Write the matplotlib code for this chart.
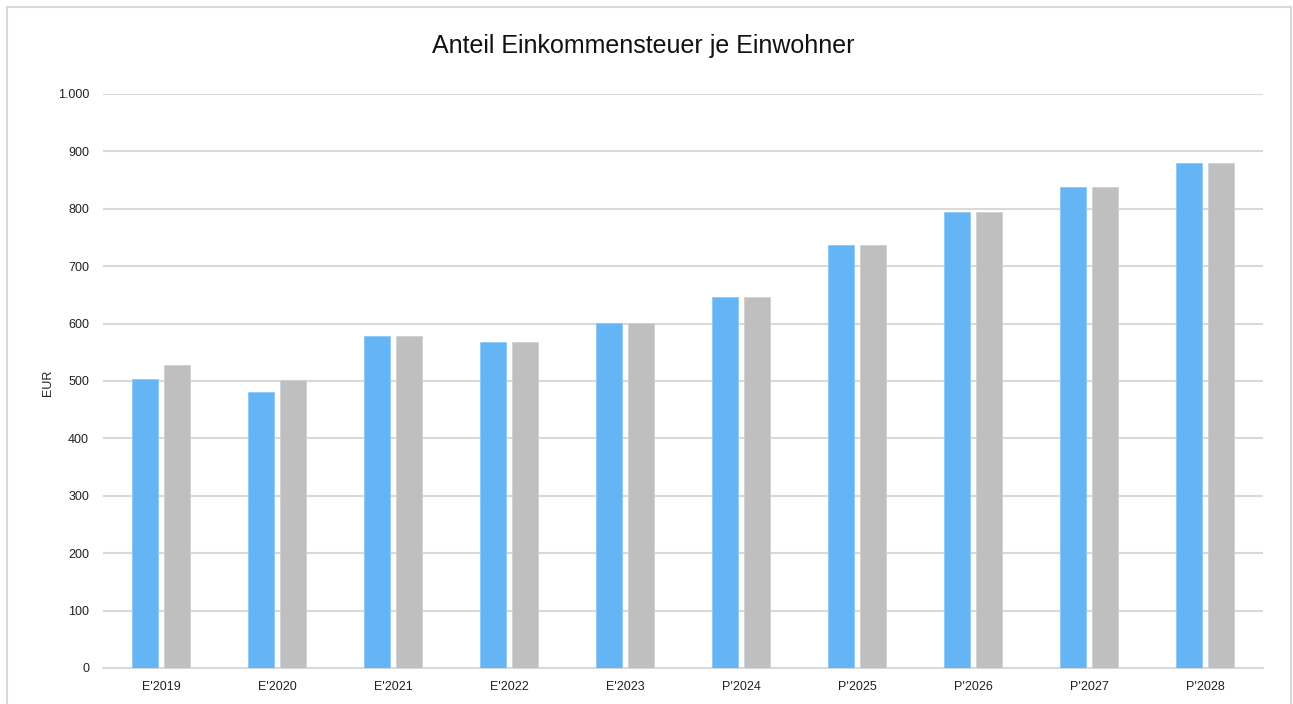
import matplotlib
matplotlib.use("Agg")
import matplotlib.pyplot as plt
import numpy as np
from matplotlib.patches import Rectangle
from matplotlib.ticker import FuncFormatter

categories = ["E'2019", "E'2020", "E'2021", "E'2022", "E'2023",
              "P'2024", "P'2025", "P'2026", "P'2027", "P'2028"]
series_a = [503, 481, 578, 568, 601, 646, 737, 794, 838, 880]
series_b = [528, 502, 578, 568, 601, 646, 737, 794, 838, 880]

plt.rcParams["font.family"] = ["Liberation Sans Narrow", "Liberation Sans", "DejaVu Sans"]

W, H = 1293, 704
fig = plt.figure(figsize=(W / 100, H / 100), dpi=100)
ax = fig.add_axes([103 / W, 1 - 668 / H, 1160 / W, 574 / H])

x = np.arange(len(categories))
bw = 0.224
ax.bar(x - 0.142, series_a, bw, color="#64b5f6", edgecolor="#8ec9f8", linewidth=0.6, zorder=3)
ax.bar(x + 0.142, series_b, bw, color="#bfbfbf", edgecolor="#d0d0d0", linewidth=0.6, zorder=3)

ax.set_xlim(-0.5, len(categories) - 0.5)
ax.set_ylim(0, 1000)
ax.set_yticks(np.arange(0, 1001, 100))
ax.yaxis.set_major_formatter(FuncFormatter(lambda v, p: f"{int(v):,}".replace(",", ".")))
ax.set_xticks(x)
ax.set_xticklabels(categories)
ax.tick_params(axis="both", length=0, labelsize=9, colors="#222222")
ax.tick_params(axis="x", pad=9)
ax.tick_params(axis="y", pad=10)
ax.grid(axis="y", color="#d9d9d9", linewidth=1.5, zorder=0)
for s in ["top", "right", "left"]:
    ax.spines[s].set_visible(False)
ax.spines["bottom"].set_color("#d9d9d9")
ax.spines["bottom"].set_linewidth(1.5)

ax.set_ylabel("EUR", fontsize=9, color="#222222")
ax.yaxis.set_label_coords(54 / W, (H - 383) / H, transform=fig.transFigure)

fig.text(643 / W, 1 - 46 / H, "Anteil Einkommensteuer je Einwohner",
         ha="center", va="center", fontsize=18, color="#111111")

fig.patches.append(Rectangle((7 / W, -0.05), (1291 - 7) / W, 1 - 7 / H + 0.05,
                             transform=fig.transFigure, fill=False,
                             edgecolor="#d9d9d9", linewidth=1.5))

fig.savefig("out.png", dpi=100)
